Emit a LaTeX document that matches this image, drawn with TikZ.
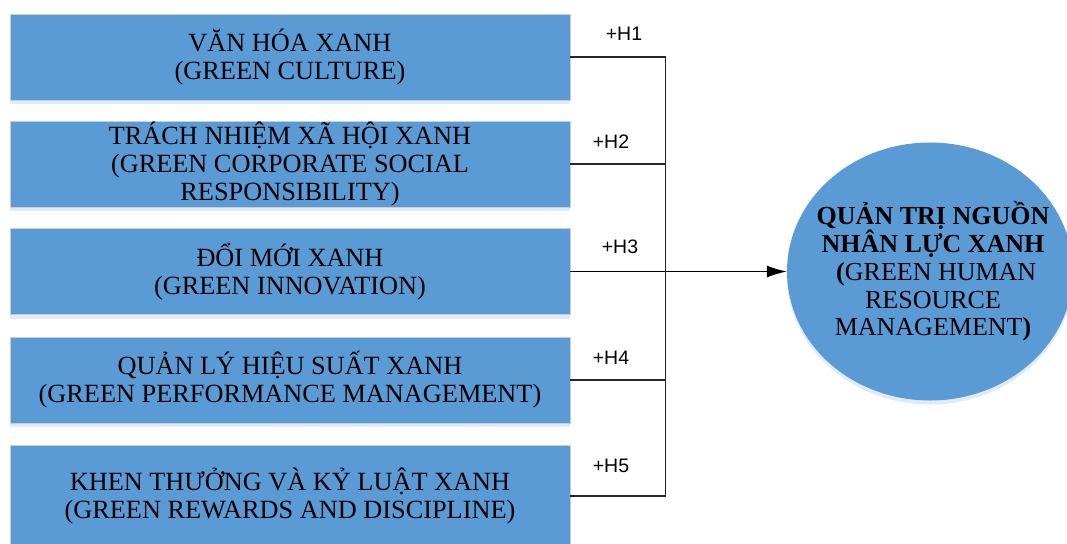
\documentclass[tikz,border=0pt]{standalone}
\usepackage{fontspec}
\setmainfont{Liberation Serif}
\newfontfamily\lsans{Liberation Sans}
\usetikzlibrary{shapes.geometric,arrows.meta,shadows}
\definecolor{boxblue}{HTML}{5B9BD5}
\definecolor{shadowblue}{HTML}{A9C6E4}
\definecolor{edgegray}{HTML}{C9CED4}
\tikzset{
  factor/.style={rectangle, fill=boxblue, draw=edgegray, line width=0.8pt,
    minimum width=560pt, minimum height=86pt, inner sep=0pt, align=center,
    font=\fontsize{26.3}{28}\selectfont,
    drop shadow={shadow xshift=0pt, shadow yshift=-4pt, fill=shadowblue, opacity=0.35}},
  outcome/.style={ellipse, fill=boxblue, draw=none, minimum width=286pt,
    minimum height=258pt, inner sep=0pt,
    drop shadow={shadow xshift=0pt, shadow yshift=-4pt, fill=shadowblue, opacity=0.35}},
  outtext/.style={align=center, inner sep=0pt, font=\fontsize{26}{27.7}\selectfont},
  hlabel/.style={font=\lsans\fontsize{19.5}{21}\selectfont, inner sep=0pt},
  conn/.style={draw=black!85, line width=1.3pt},
}
\begin{document}
\begin{tikzpicture}[x=1pt,y=-1pt]
\useasboundingbox (0,0) rectangle (1067,543);
\clip (0,0) rectangle (1067,543);
\node[factor] (b1) at (290,57) {VĂN HÓA XANH\\(GREEN CULTURE)};
\node[factor] (b2) at (290,164) {TRÁCH NHIỆM XÃ HỘI XANH\\(GREEN CORPORATE SOCIAL\\RESPONSIBILITY)};
\node[factor] (b3) at (290,271.5) {ĐỔI MỚI XANH\\(GREEN INNOVATION)};
\node[factor] (b4) at (290,380) {QUẢN LÝ HIỆU SUẤT XANH\\(GREEN PERFORMANCE MANAGEMENT)};
\node[factor, minimum height=102pt] (b5) at (290,496) {KHEN THƯỞNG VÀ KỶ LUẬT XANH\\(GREEN REWARDS AND DISCIPLINE)};
\node[outcome] (hrm) at (930,271.5) {};
\node[outtext] (hrmtext) at (933,271.5) {\textbf{QUẢN TRỊ NGUỒN}\\\textbf{NHÂN LỰC XANH}\\\textbf{\ (}GREEN HUMAN\\RESOURCE\\MANAGEMENT\textbf{)}};
\coordinate (jn) at (665.5,271.5);
\draw[conn] (b1.east) -| (jn);
\draw[conn] (b2.east) -| (jn);
\draw[conn] (b4.east) -| (jn);
\draw[conn] (b5.east) -| (jn);
\draw[conn, draw=black, -{Latex[length=20pt,width=12pt]}] (b3.east) -- (hrm.west);
\node[hlabel] (l1) at (624,34) {+H1};
\node[hlabel] (l2) at (611,142) {+H2};
\node[hlabel] (l3) at (620,247) {+H3};
\node[hlabel] (l4) at (611,358) {+H4};
\node[hlabel] (l5) at (611,466) {+H5};
\end{tikzpicture}
\end{document}
